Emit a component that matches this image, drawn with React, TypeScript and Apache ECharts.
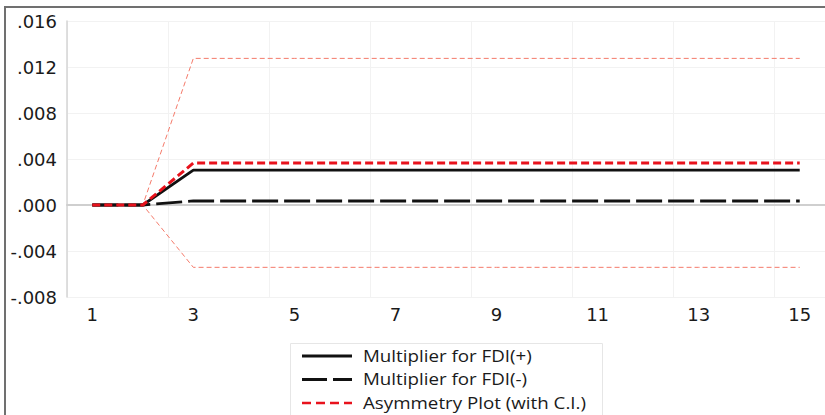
import React, { useEffect, useRef } from "react";
import * as echarts from "echarts";

const periods = ["1", "2", "3", "4", "5", "6", "7", "8", "9", "10", "11", "12", "13", "14", "15"];
const multPos = [0, 0, 0.00304, 0.00304, 0.00304, 0.00304, 0.00304, 0.00304, 0.00304, 0.00304, 0.00304, 0.00304, 0.00304, 0.00304, 0.00304];
const multNeg = [0, 0, 0.00035, 0.00035, 0.00035, 0.00035, 0.00035, 0.00035, 0.00035, 0.00035, 0.00035, 0.00035, 0.00035, 0.00035, 0.00035];
const asym = [0, 0, 0.00365, 0.00365, 0.00365, 0.00365, 0.00365, 0.00365, 0.00365, 0.00365, 0.00365, 0.00365, 0.00365, 0.00365, 0.00365];
const ciUpper = [0, 0, 0.01275, 0.01275, 0.01275, 0.01275, 0.01275, 0.01275, 0.01275, 0.01275, 0.01275, 0.01275, 0.01275, 0.01275, 0.01275];
const ciLower = [0, 0, -0.00542, -0.00542, -0.00542, -0.00542, -0.00542, -0.00542, -0.00542, -0.00542, -0.00542, -0.00542, -0.00542, -0.00542, -0.00542];
const legendNames = ["Multiplier for FDI(+)", "Multiplier for FDI(-)", "Asymmetry Plot (with C.I.)"];

const FONT = "DejaVu Sans";
const LFONT = "Open Sans";

export default function App() {
  const ref = useRef<HTMLDivElement>(null);
  useEffect(() => {
    document.body.style.margin = "0";
    const chart = echarts.init(ref.current!, null, { renderer: "svg" });
    const fmt = (v: number) => {
      const s = Math.abs(v).toFixed(3).replace(/^0/, "");
      return (v < 0 ? "-" : "") + s;
    };
    const legendStyles: any[] = [
      { stroke: "#111", lineWidth: 2.8 },
      { stroke: "#111", lineWidth: 2.8, lineDash: [25, 6] },
      { stroke: "#e8121c", lineWidth: 2.6, lineDash: [9, 5] },
    ];
    const legendItems: any[] = [];
    legendNames.forEach((n, i) => {
      const y = 356 + i * 23.5;
      legendItems.push({
        type: "line",
        z: 20,
        shape: { x1: 302, y1: y, x2: 352, y2: y },
        style: { ...legendStyles[i], fill: null },
        silent: true,
      });
      legendItems.push({
        type: "text",
        z: 20,
        x: 363,
        y,
        scaleX: 1.21,
        style: {
          text: n,
          fontSize: 15.5,
          fontFamily: LFONT,
          fill: "#1a1a1a",
          verticalAlign: "middle",
          align: "left",
        },
        silent: true,
      });
    });
    chart.setOption({
      animation: false,
      backgroundColor: "#fff",
      grid: { left: 67, top: 21, width: 761, height: 276, containLabel: false },
      xAxis: {
        type: "category",
        data: periods,
        boundaryGap: true,
        axisLine: { lineStyle: { color: "#cfcfcf", width: 2 } },
        axisTick: { show: false },
        axisLabel: { interval: 1, color: "#1a1a1a", fontSize: 18, fontFamily: FONT, margin: 8 },
        splitLine: { show: true, interval: 1, lineStyle: { color: "#f2f2f2", width: 1 } },
      },
      yAxis: {
        type: "value",
        min: -0.008,
        max: 0.016,
        interval: 0.004,
        axisLine: { show: true, lineStyle: { color: "#d4d4d4", width: 1.5 } },
        axisTick: { show: false },
        axisLabel: { formatter: fmt, color: "#1a1a1a", fontSize: 18, fontFamily: FONT, margin: 10 },
        splitLine: { show: true, lineStyle: { color: "#f2f2f2", width: 1 } },
      },
      series: [
        {
          name: "CI Upper",
          type: "line",
          data: ciUpper,
          symbol: "none",
          lineStyle: { color: "#f47a6a", width: 1, type: [5, 3] },
          z: 1,
        },
        {
          name: "CI Lower",
          type: "line",
          data: ciLower,
          symbol: "none",
          lineStyle: { color: "#f47a6a", width: 1, type: [5, 3] },
          z: 1,
        },
        {
          name: legendNames[0],
          type: "line",
          data: multPos,
          symbol: "none",
          lineStyle: { color: "#111", width: 2.8, type: "solid" },
          z: 3,
          markLine: {
            silent: true,
            symbol: "none",
            label: { show: false },
            lineStyle: { color: "#cccccc", width: 2, type: "solid" },
            data: [{ yAxis: 0 }],
            z: 0,
          },
        },
        {
          name: legendNames[1],
          type: "line",
          data: multNeg,
          symbol: "none",
          lineStyle: { color: "#111", width: 2.8, type: [26, 6] },
          z: 3,
        },
        {
          name: legendNames[2],
          type: "line",
          data: asym,
          symbol: "none",
          lineStyle: { color: "#e8121c", width: 3, type: [8, 4] },
          z: 4,
        },
      ],
      graphic: [
        {
          type: "rect",
          z: 10,
          shape: { x: 5, y: 7, width: 900, height: 500 },
          style: { fill: null, stroke: "#707070", lineWidth: 2 },
          silent: true,
        },
        {
          type: "rect",
          z: 15,
          shape: { x: 290.5, y: 343.5, width: 312, height: 100 },
          style: { fill: "#fff", stroke: "#e6e6e6", lineWidth: 1 },
          silent: true,
        },
        ...legendItems,
      ],
    });
    return () => chart.dispose();
  }, []);
  return (
    <div
      ref={ref}
      style={{ position: "absolute", left: 0, top: 0, width: 825, height: 415 }}
    />
  );
}
